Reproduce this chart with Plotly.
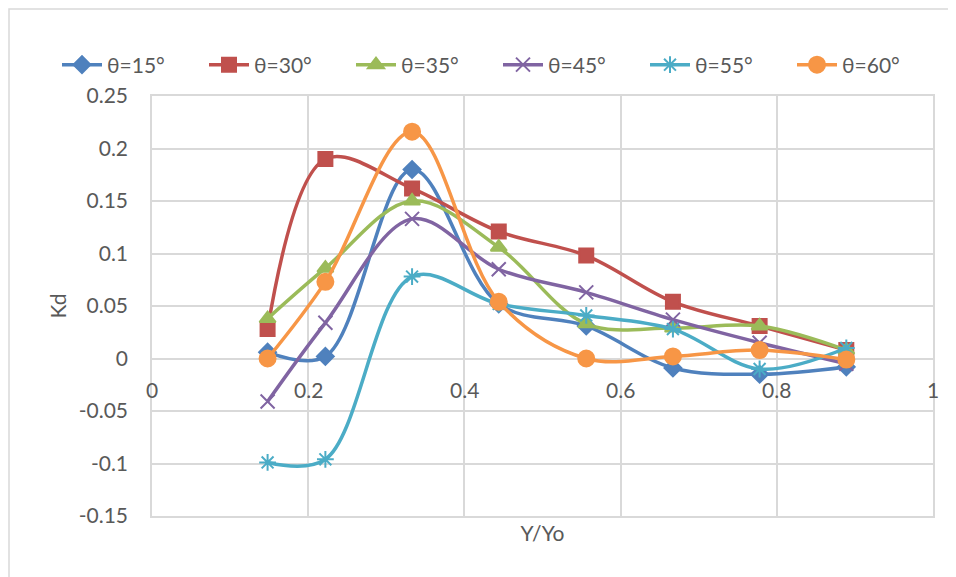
import plotly.graph_objects as go

x_vals = [0.148, 0.222, 0.333, 0.444, 0.556, 0.667, 0.778, 0.889]

series_names = ["θ=15°", "θ=30°", "θ=35°", "θ=45°", "θ=55°", "θ=60°"]
kd_15 = [0.006, 0.002, 0.180, 0.052, 0.031, -0.009, -0.015, -0.008]
kd_30 = [0.028, 0.190, 0.162, 0.121, 0.098, 0.054, 0.031, 0.008]
kd_35 = [0.038, 0.086, 0.150, 0.106, 0.033, 0.029, 0.031, 0.008]
kd_45 = [-0.041, 0.034, 0.133, 0.085, 0.063, 0.037, 0.015, -0.005]
kd_55 = [-0.099, -0.096, 0.078, 0.052, 0.041, 0.028, -0.010, 0.010]
kd_60 = [0.000, 0.073, 0.216, 0.054, 0.000, 0.002, 0.008, -0.001]

x_ticks = [0, 0.2, 0.4, 0.6, 0.8, 1]
x_tick_labels = ["0", "0.2", "0.4", "0.6", "0.8", "1"]
y_ticks = [-0.15, -0.1, -0.05, 0, 0.05, 0.1, 0.15, 0.2, 0.25]
y_tick_labels = ["-0.15", "-0.1", "-0.05", "0", "0.05", "0.1", "0.15", "0.2", "0.25"]

all_series = [kd_15, kd_30, kd_35, kd_45, kd_55, kd_60]
colors = ["#4F81BD", "#C0504D", "#9BBB59", "#8064A2", "#4BACC6", "#F79646"]
symbols = ["diamond", "square", "triangle-up", "x-thin-open", "asterisk-open", "circle"]
sizes = [13, 14, 14, 14, 14, 16]

FONT = "Lato, Calibri, 'Open Sans', sans-serif"
TXT = "#595959"
FS = 21

# page body adds an 8px offset; plot area target: x 152..933, y 96..516
OFF = 8
L, R, T, B = 152 - OFF, 956 - (933 - OFF), 96 - OFF, 577 - (516 - OFF)
PW, PH = 933 - 152, 516 - 96

fig = go.Figure()
for name, ys, c, s, sz in zip(series_names, all_series, colors, symbols, sizes):
    fig.add_trace(go.Scatter(
        x=x_vals, y=ys, name=name, mode="lines+markers",
        line=dict(color=c, width=3.5, shape="spline", smoothing=1.0),
        marker=dict(symbol=s, size=sz, color=c, line=dict(color=c, width=2)),
    ))

for xv, lab in zip(x_ticks, x_tick_labels):
    fig.add_annotation(x=xv, y=0, xref="x", yref="y", text=lab, showarrow=False,
                       xanchor="center", yanchor="middle", yshift=-31,
                       font=dict(family=FONT, size=FS, color=TXT))

# chart-area border (figure pixel coords converted to paper)
fig.add_shape(type="rect", xref="paper", yref="paper",
              x0=(1 - L) / PW, x1=(970 - L) / PW,
              y0=(T + PH - 590) / PH, y1=(T + PH - 1) / PH,
              line=dict(color="#D9D9D9", width=1.5), layer="below")

fig.update_layout(
    width=956, height=577,
    paper_bgcolor="white", plot_bgcolor="white",
    margin=dict(l=L, r=R, t=T, b=B, autoexpand=False),
    font=dict(family=FONT, size=FS, color=TXT),
    showlegend=True,
    legend=dict(orientation="h", xref="paper", yref="paper",
                x=(49 - L) / PW, y=1 + (T - 57) / PH, xanchor="left", yanchor="middle",
                font=dict(family=FONT, size=FS, color=TXT),
                entrywidth=92, entrywidthmode="pixels",
                itemwidth=40, tracegroupgap=0, bgcolor="rgba(0,0,0,0)"),
    xaxis=dict(range=[0, 1], tickvals=x_ticks, showticklabels=False,
               showgrid=True, gridcolor="#D9D9D9", gridwidth=1.5,
               zeroline=False, showline=True, linecolor="#D9D9D9", linewidth=1.5, mirror=True,
               title=dict(text="Y/Yo", font=dict(family=FONT, size=FS, color=TXT), standoff=10)),
    yaxis=dict(range=[-0.15, 0.25], tickvals=y_ticks, ticktext=y_tick_labels,
               showgrid=True, gridcolor="#D9D9D9", gridwidth=1.5,
               zeroline=False, showline=True, linecolor="#D9D9D9", linewidth=1.5, mirror=True,
               ticks="", ticklabelstandoff=18,
               tickfont=dict(family=FONT, size=FS, color=TXT),
               title=dict(text="Kd", font=dict(family=FONT, size=FS, color=TXT), standoff=6)),
)

fig.write_html("out.html")
